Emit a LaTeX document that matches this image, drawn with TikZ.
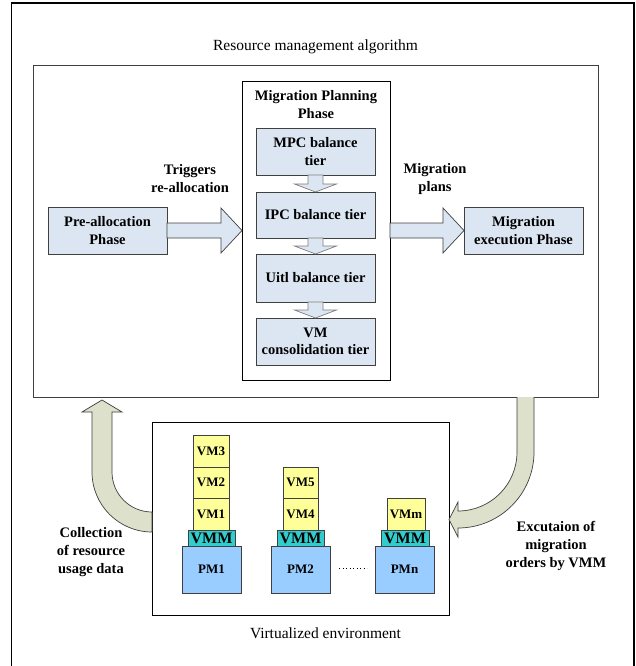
\documentclass[tikz,border=0pt]{standalone}
\usepackage{fontspec}
\setmainfont{Liberation Serif}
\usetikzlibrary{calc}
\definecolor{tierfill}{HTML}{DCE6F2}
\definecolor{curvefill}{HTML}{DDE0CA}
\definecolor{vmfill}{HTML}{FFFF99}
\definecolor{vmmfill}{HTML}{33CCCC}
\definecolor{pmfill}{HTML}{99CCFF}
\definecolor{edgegrey}{HTML}{404040}
\definecolor{arrowgrey}{HTML}{7F7F7F}
\begin{document}
\begin{tikzpicture}[x=1pt,y=-1pt,
  rect/.style 2 args={minimum width=#1pt, minimum height=#2pt},
  box/.style={draw=edgegrey, fill=tierfill, line width=0.8pt, inner sep=0pt, outer sep=0pt, align=center,
    font=\bfseries\fontsize{14.5}{17.5}\selectfont},
  frame/.style={inner sep=0pt, outer sep=0pt},
  lbl/.style={align=center, inner sep=0pt, font=\bfseries\fontsize{14.5}{18}\selectfont},
  plainlbl/.style={align=center, inner sep=0pt, font=\fontsize{15.5}{18}\selectfont},
  blockarrow/.style={draw=edgegrey, fill=tierfill, line width=0.7pt, line join=miter},
  tierarrow/.style={draw=arrowgrey, fill=tierfill, line width=0.7pt},
  curvearrow/.style={draw=edgegrey, fill=curvefill, line width=0.7pt},
  vmbox/.style={draw=edgegrey, fill=vmfill, line width=0.7pt, inner sep=0pt, outer sep=0pt,
    font=\bfseries\fontsize{13}{13}\selectfont},
  vmmbox/.style={draw=edgegrey, fill=vmmfill, line width=0.7pt, inner sep=0pt, outer sep=0pt,
    font=\bfseries\fontsize{16}{16}\selectfont},
  pmbox/.style={draw=edgegrey, fill=pmfill, line width=0.7pt, inner sep=0pt, outer sep=0pt,
    font=\bfseries\fontsize{13}{13}\selectfont}]
\useasboundingbox (0,0) rectangle (636,666);
\fill[white] (0,0) rectangle (636,666);
% outer frame
\draw[line width=1.6pt] (11.5,3) rectangle (634,672);
% title
\node[plainlbl] (title) at (315.5,47) {Resource management algorithm};
% algorithm box
\node[frame, draw=edgegrey, line width=0.8pt, rect={565}{332}] (alg) at (315.5,231) {};
% migration planning box
\node[frame, draw=black, line width=0.6pt, rect={148}{299}] (mpp) at (316,230.5) {};
\node[lbl] (mpplabel) at (316,105) {Migration Planning\\Phase};
% tiers
\node[box, rect={119}{47}] (mpc) at (315.5,151.5) {MPC balance\\tier};
\node[box, rect={119}{46}] (ipc) at (315.5,215) {IPC balance tier};
\node[box, rect={119}{48}] (util) at (315.5,278) {Uitl balance tier};
\node[box, rect={119}{47}] (vmc) at (315.5,341.5) {VM\\consolidation tier};
% phases
\node[box, rect={119}{47}] (pre) at (107.5,230.5) {Pre-allocation\\Phase};
\node[box, rect={119}{47}] (exec) at (523.5,230.5) {Migration\\execution Phase};
% labels
\node[lbl] (trig) at (190,179) {Triggers\\re-allocation};
\node[lbl] (plans) at (435,179) {Migration\\plans};
% block arrows
\draw[blockarrow] ($(pre.east)+(0,-7.5)$) -- ($(mpp.west)+(-21,-7.5)$) -- ($(mpp.west)+(-21,-22.5)$) -- (mpp.west)
  -- ($(mpp.west)+(-21,22.5)$) -- ($(mpp.west)+(-21,7.5)$) -- ($(pre.east)+(0,7.5)$) -- cycle;
\draw[blockarrow] ($(mpp.east)+(0,-7.5)$) -- ($(exec.west)+(-21,-7.5)$) -- ($(exec.west)+(-21,-22.5)$) -- (exec.west)
  -- ($(exec.west)+(-21,22.5)$) -- ($(exec.west)+(-21,7.5)$) -- ($(mpp.east)+(0,7.5)$) -- cycle;
% tier arrows
\foreach \a/\b in {mpc/ipc, ipc/util, util/vmc}{
  \draw[tierarrow] ($(\a.south)+(-7.5,0)$) -- ($(\b.north)+(-7.5,-8)$) -- ($(\b.north)+(-21,-8)$) -- (\b.north)
    -- ($(\b.north)+(21,-8)$) -- ($(\b.north)+(7.5,-8)$) -- ($(\a.south)+(7.5,0)$) -- cycle;
}
% virtualized environment
\node[frame, draw=black, line width=0.7pt, rect={297}{193}] (venv) at (300.5,518.5) {};
\node[plainlbl] (venvlabel) at (325.5,633) {Virtualized environment};
% PM1 stack
\node[pmbox, rect={59}{47}] (pm1) at (211.5,569.5) {PM1};
\node[vmmbox, rect={47}{16}] (vmm1) at (211.5,538) {VMM};
\node[vmbox, rect={36}{32}] (vm1) at (211,514) {VM1};
\node[vmbox, rect={36}{31}] (vm2) at (211,482.5) {VM2};
\node[vmbox, rect={36}{32}] (vm3) at (211,451) {VM3};
% PM2 stack
\node[pmbox, rect={59}{47}] (pm2) at (300.5,569.5) {PM2};
\node[vmmbox, rect={47}{16}] (vmm2) at (300.5,538) {VMM};
\node[vmbox, rect={35}{32}] (vm4) at (300.5,514) {VM4};
\node[vmbox, rect={35}{31}] (vm5) at (300.5,482.5) {VM5};
% PMn stack
\node[pmbox, rect={59}{47}] (pmn) at (404.5,569.5) {PMn};
\node[vmmbox, rect={48}{16}] (vmmn) at (405,538) {VMM};
\node[vmbox, rect={38}{32}] (vmm) at (406,514) {VMm};
% dots
\draw[line width=0.8pt, dash pattern=on 0.9pt off 2.6pt] ($(pm2.east)+(9,-1)$) -- ($(pmn.west)+(-8,-1)$);
% curved arrows
\draw[curvearrow] (152,532) .. controls (118.9,532) and (92,505.1) .. (92,472) -- (92,412) -- (82,412) -- (102,400)
  -- (122,412) -- (112,412) -- (112,472) .. controls (112,494.1) and (129.9,512) .. (152,512) -- cycle;
\draw[curvearrow] (517,397) -- (517,452) .. controls (517,484.6) and (490.6,511) .. (458,511) -- (458,502) -- (449,519.5)
  -- (458,537) -- (458,528) .. controls (500,528) and (534,494) .. (534,452) -- (534,397);
\node[lbl] (collect) at (91,552) {Collection\\of resource\\usage data};
\node[lbl] (execlbl) at (556,546) {Excutaion of\\migration\\orders by VMM};
\end{tikzpicture}
\end{document}
